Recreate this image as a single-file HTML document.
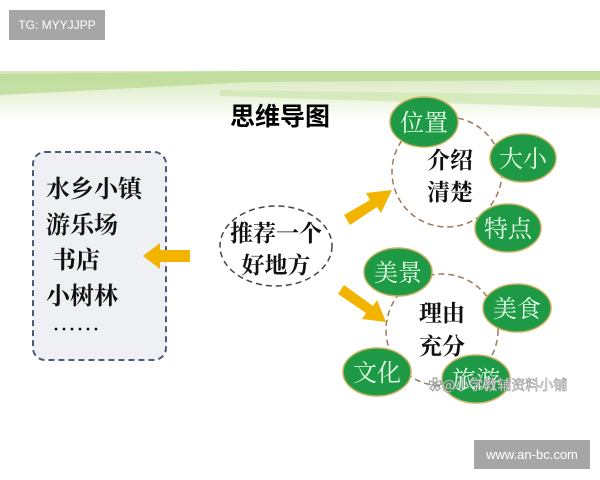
<!DOCTYPE html>
<html><head><meta charset="utf-8"><style>
body{margin:0;width:600px;height:480px;background:#fff;position:relative;overflow:hidden;font-family:"Liberation Sans","Noto Sans CJK SC",sans-serif}
.tag{position:absolute;background:#a6a6a6;color:#fff;font-size:12px;display:flex;align-items:center;justify-content:center}
</style></head><body>
<div class="tag" style="left:9px;top:10px;width:96px;height:30px">TG: MYYJJPP</div>
<svg width="600" height="480" style="position:absolute;left:0;top:0">
<defs><linearGradient id="g" x1="0" y1="0" x2="0" y2="1"><stop offset="0" stop-color="#d3e8b8"/><stop offset="1" stop-color="#ffffff"/></linearGradient></defs>
<rect x="0" y="71" width="600" height="50" fill="url(#g)"/>
<path d="M0 74 L250 71 L600 71 L600 80 L250 82 L0 95Z" fill="#b7d890" opacity="0.7"/>
<path d="M220 90 L600 95 L600 108 L220 96Z" fill="#c9e3a6" opacity="0.6"/>
<text x="280" y="125" font-size="25" font-weight="bold" text-anchor="middle" font-family="Noto Sans CJK SC,sans-serif">思维导图</text>
<rect x="33" y="152" width="133" height="208" rx="12" fill="#eef0f4" stroke="#4a5a7a" stroke-width="2" stroke-dasharray="6,4"/>
<g font-size="24" font-weight="bold" font-family="Noto Serif CJK SC,serif" fill="#111">
<text x="46" y="197">水乡小镇</text><text x="46" y="233">游乐场</text><text x="52" y="268">书店</text><text x="46" y="304">小树林</text><text x="52" y="338">……</text></g>
<ellipse cx="276" cy="246" rx="56" ry="40" fill="#fff" stroke="#444" stroke-width="1.5" stroke-dasharray="6,4"/>
<g font-size="23" font-weight="bold" font-family="Noto Serif CJK SC,serif" fill="#111" text-anchor="middle"><text x="276" y="241">推荐一个</text><text x="276" y="273">好地方</text></g>
<g fill="#f2b400">
<polygon points="190,250 160,250 160,243 143,256 160,269 160,262 190,262"/>
<polygon points="344,215 370,200 366,193 392,190 381,213 377,207 350,225"/>
<polygon points="338,294 366,313 362,319 386,322 377,300 373,306 344,285"/>
</g>
<circle cx="447" cy="172" r="55" fill="#fff" stroke="#9a7a5a" stroke-width="1.5" stroke-dasharray="6,4"/>
<circle cx="442" cy="330" r="56" fill="#fff" stroke="#9a7a5a" stroke-width="1.5" stroke-dasharray="6,4"/>
<g font-size="23" font-weight="bold" font-family="Noto Serif CJK SC,serif" fill="#111" text-anchor="middle"><text x="450" y="168">介绍</text><text x="450" y="200">清楚</text><text x="442" y="321">理由</text><text x="442" y="354">充分</text></g>
<g fill="#1e9a46" stroke="#c8b060" stroke-width="1.5">
<ellipse cx="424" cy="122" rx="34" ry="25"/><ellipse cx="523" cy="158" rx="33" ry="24"/><ellipse cx="508" cy="228" rx="33" ry="24"/>
<ellipse cx="398" cy="272" rx="34" ry="24"/><ellipse cx="517" cy="308" rx="34" ry="24"/><ellipse cx="377" cy="372" rx="34" ry="24"/><ellipse cx="476" cy="379" rx="34" ry="24"/></g>
<g font-size="24" font-family="Noto Serif CJK SC,serif" fill="#e8ffe8" text-anchor="middle">
<text x="424" y="131">位置</text><text x="523" y="167">大小</text><text x="508" y="237">特点</text>
<text x="398" y="281">美景</text><text x="517" y="317">美食</text><text x="377" y="381">文化</text><text x="476" y="388">旅游</text></g>
<text x="428" y="390" font-size="14" fill="#fff" stroke="#999" stroke-width="0.6" font-family="Noto Sans CJK SC,sans-serif">❀@小学教辅资料小铺</text>
</svg>
<div class="tag" style="left:474px;top:440px;width:116px;height:29px;font-size:13px">www.an-bc.com</div>
</body></html>
